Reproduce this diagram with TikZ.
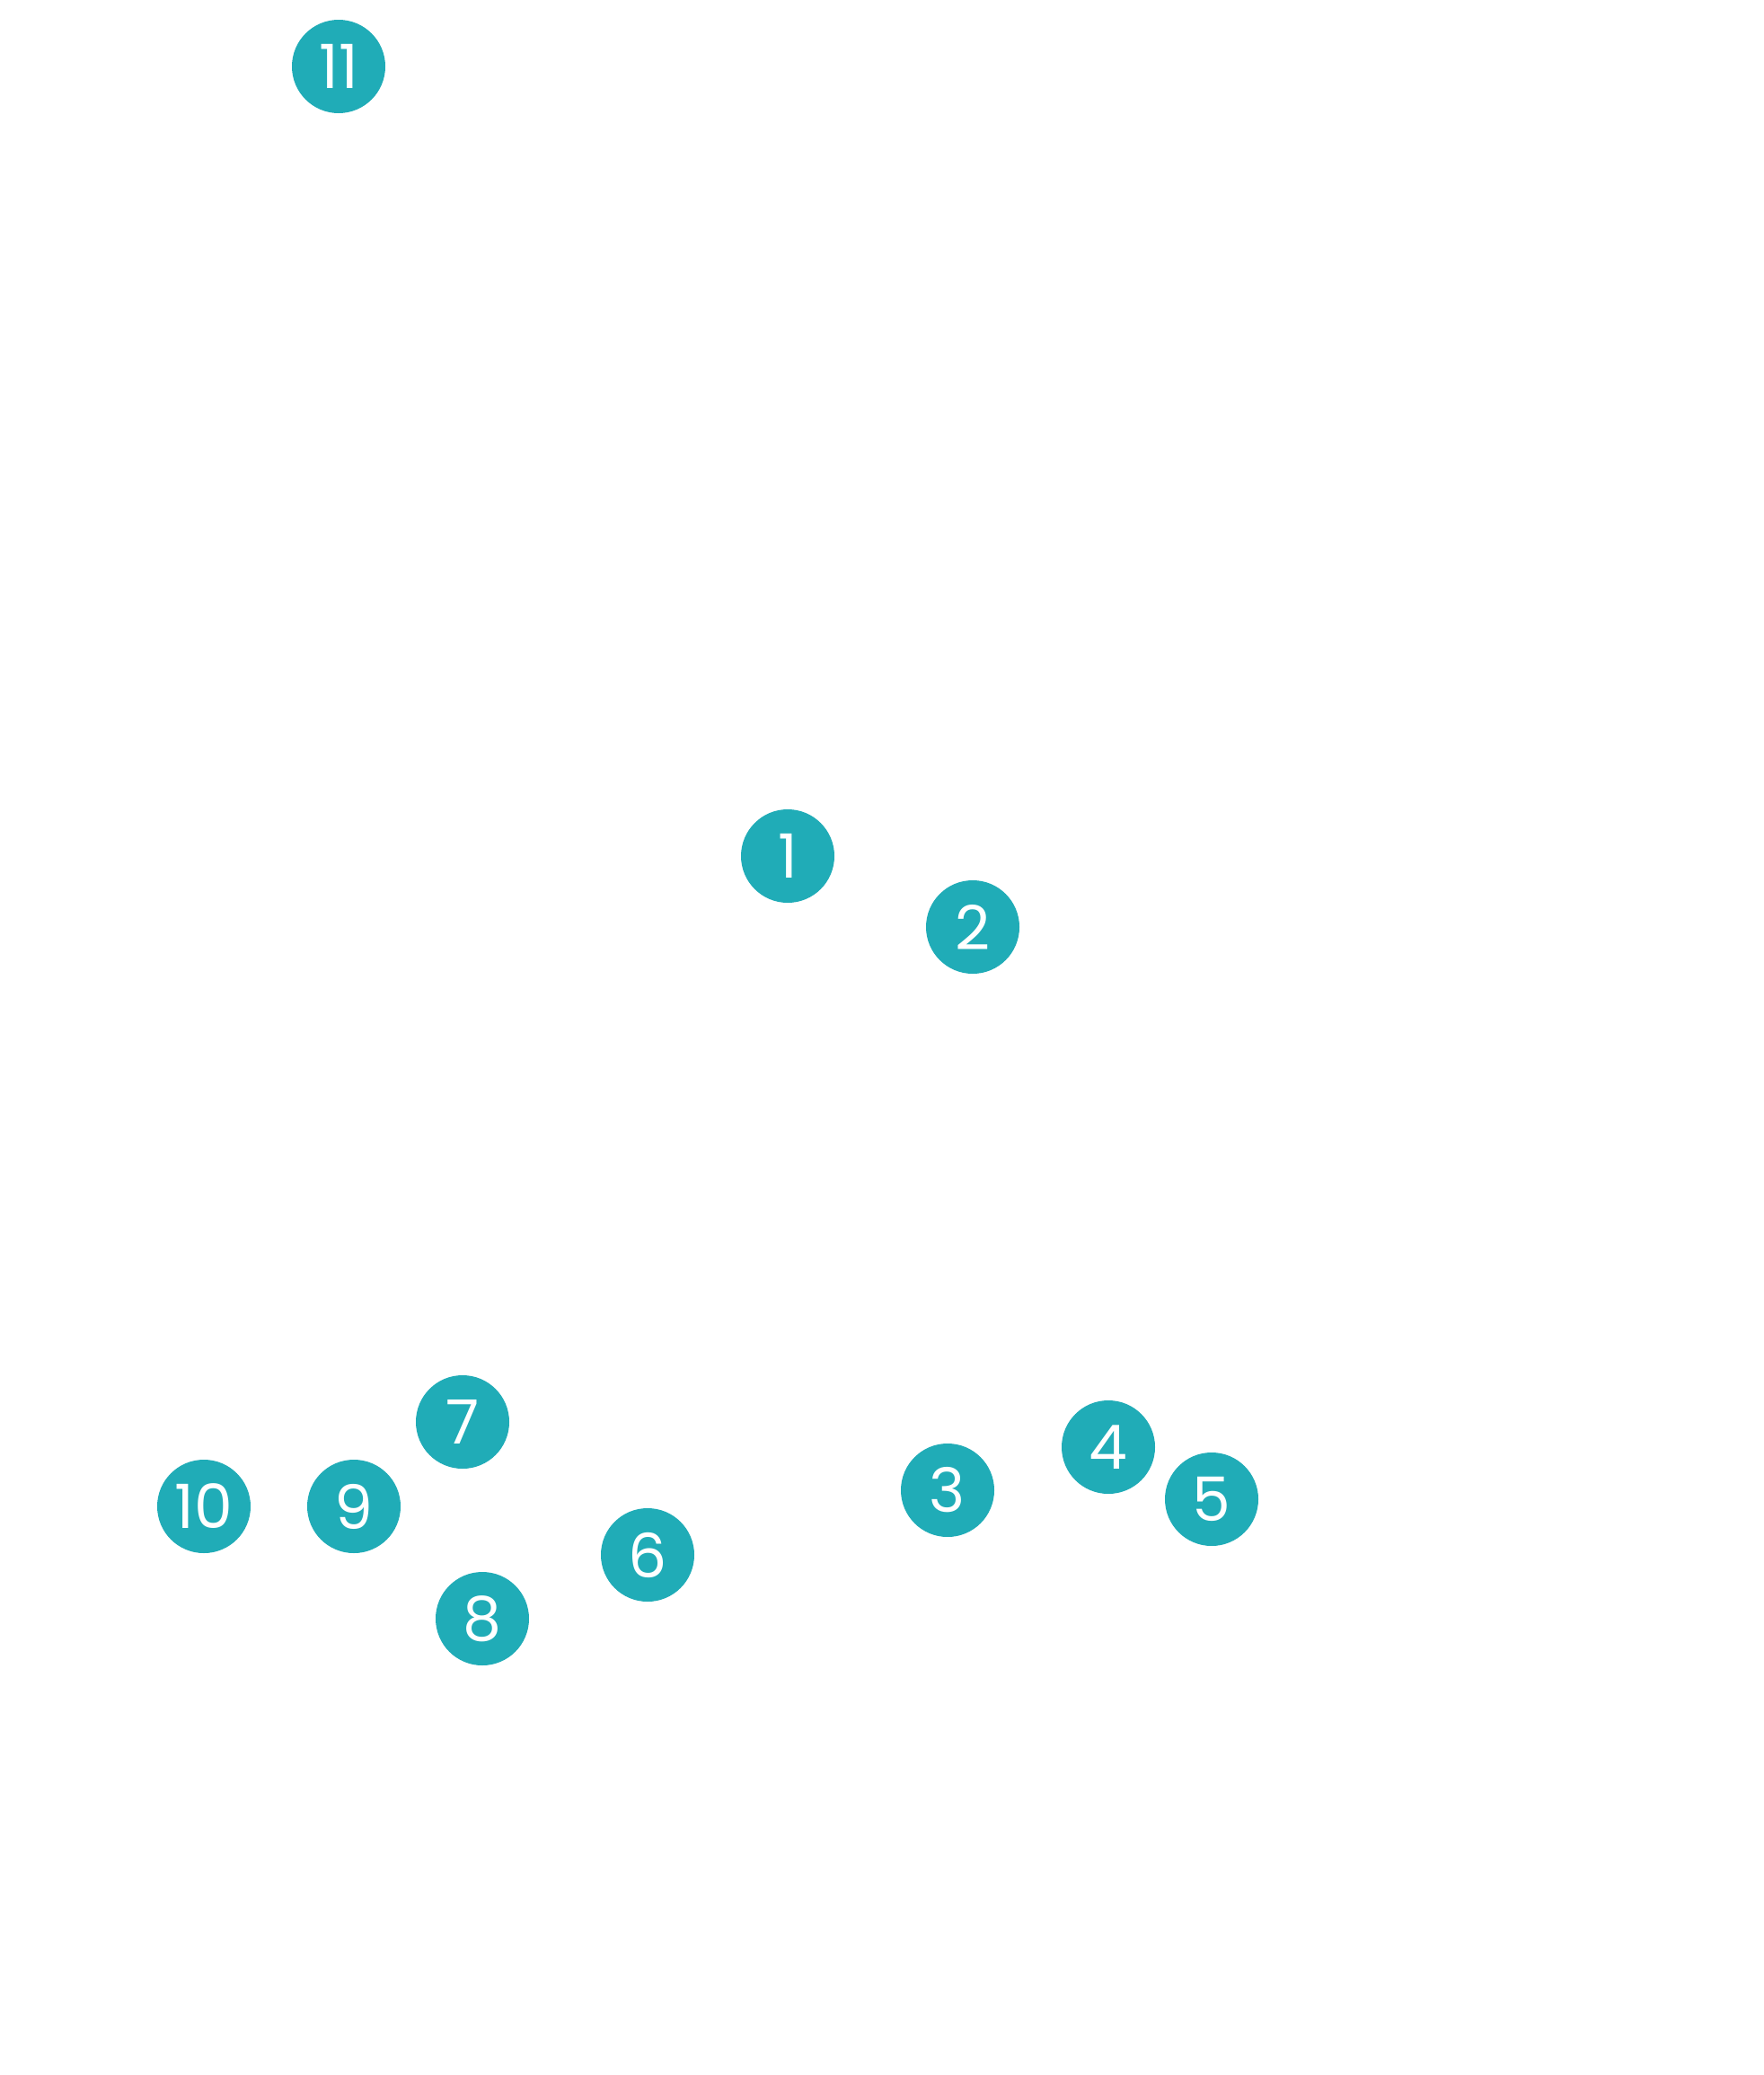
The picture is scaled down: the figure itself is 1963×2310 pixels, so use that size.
\documentclass[tikz,border=0pt]{standalone}
\usepackage{fontspec}
\setmainfont{Poppins}
\definecolor{teal}{HTML}{20ACB7}
\begin{document}
\begin{tikzpicture}[x=1pt,y=-1pt,
  badge/.style={circle,fill=teal,minimum size=104pt,inner sep=0pt,text=white,font=\fontsize{68}{68}\selectfont}]
\useasboundingbox[fill=white] (0,0) rectangle (1963,2310);
\node[badge] (n11) at (377,74) {11};
\node[badge] (n1) at (877,953) {1};
\node[badge] (n2) at (1083,1032) {2};
\node[badge] (n7) at (515,1583) {7};
\node[badge] (n10) at (227,1677) {10};
\node[badge] (n9) at (394,1677) {9};
\node[badge] (n8) at (537,1802) {8};
\node[badge] (n6) at (721,1731) {6};
\node[badge] (n3) at (1055,1659) {3};
\node[badge] (n4) at (1234,1611) {4};
\node[badge] (n5) at (1349,1669) {5};
\end{tikzpicture}
\end{document}
